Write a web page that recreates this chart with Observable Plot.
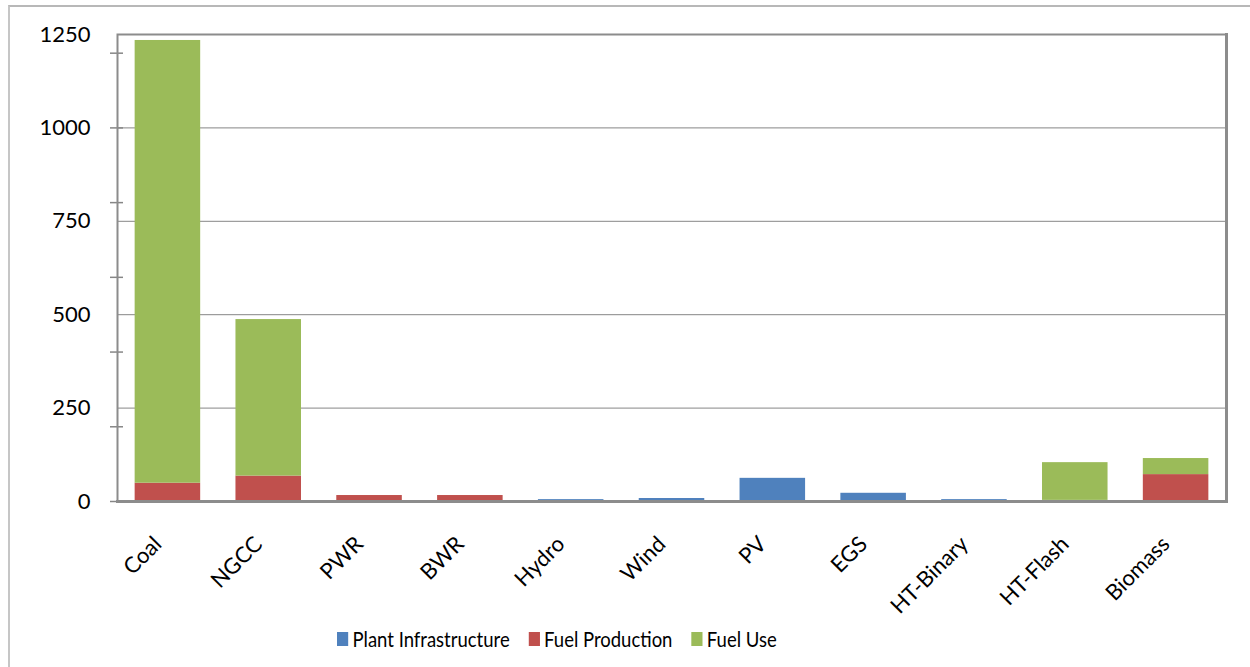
<!DOCTYPE html>
<html>
<head>
<meta charset="utf-8">
<script src="https://cdn.jsdelivr.net/npm/d3@7"></script>
<script src="https://cdn.jsdelivr.net/npm/@observablehq/plot@0.6"></script>
<style>
  html, body { margin: 0; padding: 0; background: #fff; width: 1250px; height: 667px; overflow: hidden; }
  #wrap { position: relative; width: 1250px; height: 667px; }
  #border { position: absolute; left: 8px; top: 5px; width: 1300px; height: 700px;
            border-left: 2px solid #c6c6c6; border-top: 2px solid #b8b8b8; }
  #chart { position: absolute; left: 0; top: 0; }
  #legend { position: absolute; left: 337px; top: 626px; display: flex; align-items: center;
            font-family: Lato, "Open Sans", sans-serif; font-size: 21.5px; color: #000;
            transform: scaleX(0.86); transform-origin: 0 50%; white-space: nowrap; }
  .item { display: flex; align-items: center; margin-right: 22px; }
  .sw { width: 13px; height: 14px; margin-right: 5px; }
</style>
</head>
<body>
<div id="wrap">
  <div id="border"></div>
  <div id="chart"></div>
  <div id="legend"></div>
</div>
<script>
const categories = ["Coal", "NGCC", "PWR", "BWR", "Hydro", "Wind", "PV", "EGS", "HT-Binary", "HT-Flash", "Biomass"];
const series = ["Plant Infrastructure", "Fuel Production", "Fuel Use"];
const colors = ["#4F81BD", "#C0504D", "#9BBB59"];
const plantInfrastructure = [0, 0, 0, 0, 5, 8, 62, 22, 5, 3, 0];
const fuelProduction = [49, 68, 16, 16, 0, 0, 0, 0, 0, 0, 72];
const fuelUse = [1185, 419, 0, 0, 0, 0, 0, 0, 0, 101, 43];
const yLabelTicks = [0, 250, 500, 750, 1000, 1250];
const yMinorTicks = [0, 200, 400, 600, 800, 1000, 1200];
const gridValues = [250, 500, 750, 1000];

const seriesValues = [plantInfrastructure, fuelProduction, fuelUse];
const data = [];
series.forEach((s, si) => {
  categories.forEach((c, ci) => {
    data.push({category: c, series: s, value: seriesValues[si][ci]});
  });
});

const chart = Plot.plot({
  width: 1250,
  height: 620,
  marginTop: 34,
  marginBottom: 119,
  marginLeft: 117,
  marginRight: 24,
  style: {background: "transparent", fontFamily: "Lato, 'Open Sans', sans-serif", color: "#000"},
  x: {domain: categories, paddingInner: 0.35, paddingOuter: 0.175, round: false, axis: null},
  y: {domain: [0, 1250], axis: null},
  color: {domain: series, range: colors},
  marks: [
    Plot.ruleY(gridValues, {stroke: "#868686", strokeWidth: 1}),
    Plot.barY(data, {x: "category", y: "value", fill: "series", order: series}),
    Plot.axisY(yMinorTicks, {tickSize: 13, dx: 6, tickFormat: () => "", stroke: "#868686", strokeWidth: 1.5, label: null}),
    Plot.axisY(yLabelTicks, {tickSize: 0, tickPadding: 27, fontSize: 22, fill: "#000", tickFormat: d => String(d), label: null}),
    Plot.frame({stroke: "#8c8c8c", strokeWidth: 2}),
    Plot.frame({anchor: "right", stroke: "#8c8c8c", strokeWidth: 3}),
    Plot.frame({anchor: "bottom", stroke: "#8c8c8c", strokeWidth: 3}),
    Plot.text(categories, {x: d => d, frameAnchor: "bottom", rotate: -45, textAnchor: "end", lineAnchor: "bottom", dx: -5, dy: 44, fontSize: 22, fill: "#000"})
  ]
});
document.getElementById("chart").appendChild(chart);

const legend = document.getElementById("legend");
series.forEach((s, i) => {
  const item = document.createElement("div");
  item.className = "item";
  const sw = document.createElement("div");
  sw.className = "sw";
  sw.style.background = colors[i];
  const t = document.createElement("span");
  t.textContent = s;
  item.appendChild(sw);
  item.appendChild(t);
  legend.appendChild(item);
});
</script>
</body>
</html>
